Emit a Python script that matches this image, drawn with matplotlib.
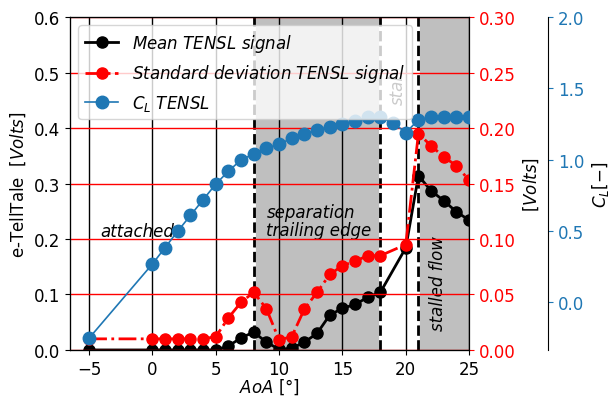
import numpy as np
import matplotlib
matplotlib.use("Agg")
import matplotlib.pyplot as plt

plt.rcParams['font.size'] = 12

# mean and std of the TENSL signal (no point at 19 deg)
aoa_sig = [-5, 0, 1, 2, 3, 4, 5, 6, 7, 8, 9, 10, 11, 12, 13, 14, 15, 16, 17, 18,
           20, 21, 22, 23, 24, 25]
mean_sig = [0.0, 0.0, 0.0, 0.0, 0.0, 0.0, 0.0, 0.007, 0.022, 0.032, 0.014, 0.001,
            0.003, 0.014, 0.030, 0.063, 0.075, 0.082, 0.095, 0.104,
            0.184, 0.314, 0.287, 0.269, 0.249, 0.234]
std_sig = [0.010, 0.010, 0.010, 0.010, 0.010, 0.010, 0.012, 0.029, 0.043, 0.052,
           0.037, 0.009, 0.012, 0.037, 0.052, 0.068, 0.076, 0.080, 0.085, 0.085,
           0.095, 0.195, 0.184, 0.174, 0.166, 0.153]

# lift coefficient
aoa_cl = [-5, 0, 1, 2, 3, 4, 5, 6, 7, 8, 9, 10, 11, 12, 13, 14, 15, 16, 17, 18,
          19, 20, 21, 22, 23, 24, 25]
cl = [-0.25, 0.27, 0.385, 0.50, 0.61, 0.72, 0.83, 0.92, 1.00, 1.04, 1.08, 1.11,
      1.15, 1.18, 1.21, 1.23, 1.25, 1.27, 1.30, 1.30, 1.26, 1.19, 1.28, 1.30,
      1.30, 1.30, 1.30]

# flow regimes
sep_start, sep_end = 8, 18
stall_start = 21

fig = plt.figure(figsize=(6.1, 4.02), dpi=100)
ax1 = fig.add_axes([0.115, 0.127, 0.654, 0.828])
ax2 = ax1.twinx()
ax3 = ax1.twinx()
ax3.spines['right'].set_position(('axes', 1.198))

ax1.axvspan(sep_start, sep_end, color='gray', alpha=0.5, lw=0)
ax1.axvspan(stall_start, 25, color='gray', alpha=0.5, lw=0)
for xv in [sep_start, sep_end, stall_start]:
    ax1.axvline(xv, color='k', ls='--', lw=2, gapcolor='white')

ax1.xaxis.grid(True, color='k', lw=1)
l1, = ax1.plot(aoa_sig, mean_sig, 'o-', color='k', lw=2, ms=8,
               label=r'$Mean\ TENSL\ signal$')
ax1.set_xlim(-6.5, 25)
ax1.set_ylim(0, 0.6)
ax1.set_xticks(np.arange(-5, 26, 5))
ax1.set_ylabel(r'e-TellTale  $[Volts]$')
ax1.set_xlabel(r'$AoA$ [°]', labelpad=-1)

ax1.text(-4.1, 0.215, 'attached', style='italic', va='center')
ax1.text(9.0, 0.232, 'separation\ntrailing edge', style='italic', va='center',
         linespacing=1.0)
ax1.text(22.55, 0.121, 'stalled flow', style='italic', rotation=90,
         ha='center', va='center')
ax1.text(19.4, 0.443, 'stal', style='italic', rotation=90, ha='center',
         va='bottom')

l2, = ax2.plot(aoa_sig, std_sig, 'o-.', color='red', lw=2, ms=8,
               label=r'$Standard\ deviation\ TENSL\ signal$')
ax2.set_ylim(0, 0.3)
ax2.set_yticks(np.arange(0, 0.31, 0.05))
ax2.yaxis.grid(True, color='red', lw=1)
ax2.tick_params(axis='y', colors='red')
ax2.set_ylabel(r'$[Volts]$')

l3, = ax3.plot(aoa_cl, cl, 'o-', color='C0', lw=1.2, ms=9,
               label=r'$C_L\ TENSL$')
ax3.set_ylim(-0.333, 2.0)
ax3.set_yticks(np.arange(0, 2.01, 0.5))
ax3.tick_params(axis='y', colors='C0')
ax3.set_ylabel(r'$C_L [-]$')

ax3.legend(handles=[l1, l2, l3], loc='upper left')

fig.savefig('out.png', dpi=100)
